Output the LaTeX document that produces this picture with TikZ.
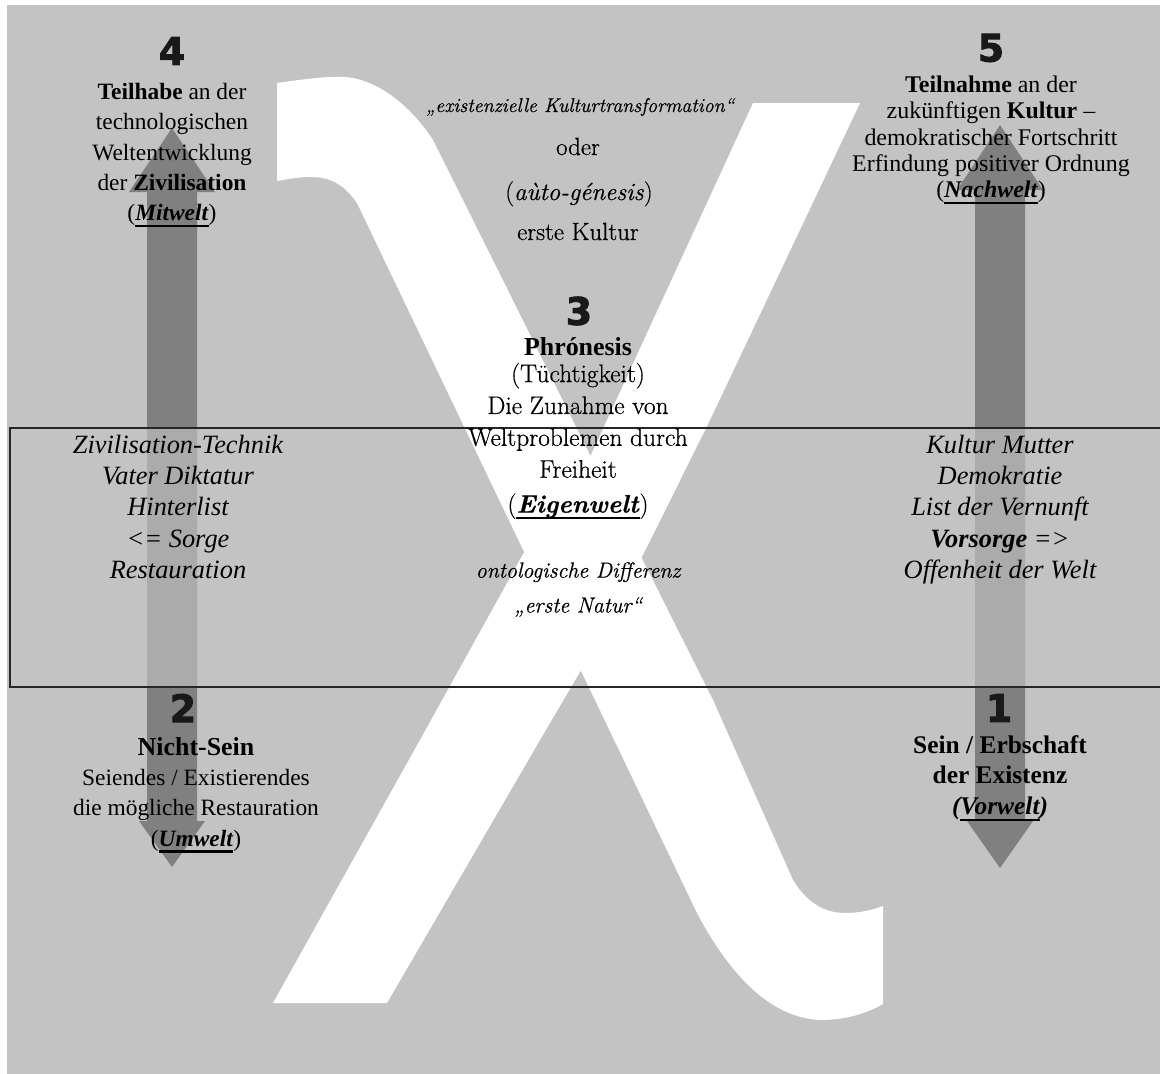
\documentclass[tikz,border=0pt]{standalone}
\usepackage{fontspec}
\setmainfont{Liberation Serif}
\newfontfamily\garfont{Latin Modern Roman}[FakeBold=0.6]
\newfontfamily\digfont{DejaVu Sans}[FakeBold=2.5]
\usepackage{xcolor}
\usepackage{tikz}

\definecolor{bggray}{RGB}{195,195,195}
\definecolor{shaftgray}{RGB}{128,128,128}
\newcommand{\setfs}[2]{\fontsize{#1}{#2}\selectfont}
\newcommand{\welt}[1]{\setbox0=\hbox{#1}\rlap{\rule[-6.3bp]{\wd0}{2.2bp}}\box0}

\begin{document}
\begin{tikzpicture}[x=1bp, y=-1bp,
    txt/.style={align=center, inner sep=0pt, anchor=north, font=\setfs{23.5}{30.5}},
    gar/.style={inner sep=0pt, anchor=base, font=\garfont\setfs{25}{30}},
    digit/.style={inner sep=0pt, text=black!90, font=\digfont\bfseries\setfs{38}{38}},
]
    \useasboundingbox (0,0) rectangle (1160,1074);

    % Background
    \fill[white] (0,0) rectangle (1160,1074);
    \fill[bggray] (7,5) rectangle (1160,1074);

    % Double arrows
    \fill[shaftgray] (172,128) -- (215,192) -- (197,192) -- (197,821) -- (205,821)
        -- (172,867) -- (139,821) -- (147,821) -- (147,192) -- (129,192) -- cycle;
    \fill[shaftgray] (1000,125) -- (1043,190) -- (1025,190) -- (1025,821) -- (1033,821)
        -- (1000,868) -- (967,821) -- (975,821) -- (975,190) -- (957,190) -- cycle;

    % Band
    \fill[bggray, fill opacity=0.65] (10,428) rectangle (1160,687);

    % Chi
    \fill[white] (277,83) .. controls (305,79) and (328,76) .. (345,77)
        .. controls (380,80) and (412,108) .. (433,140)
        -- (590,455) -- (713,700) -- (793,880)
        .. controls (805,900) and (822,913) .. (845,913)
        .. controls (860,913) and (872,910) .. (883,906)
        -- (883,1004)
        .. controls (865,1014) and (845,1020) .. (820,1020)
        .. controls (780,1018) and (738,990) .. (697,913)
        -- (357,203)
        .. controls (348,190) and (335,177) .. (312,177)
        .. controls (298,177) and (288,179) .. (277,181) -- cycle;
    \fill[white] (753,103) -- (860,103) -- (710,420) -- (647,547) -- (587,660)
        -- (540,740) -- (387,1003) -- (273,1003) -- (420,740) -- (527,547)
        -- (590,457) -- cycle;

    % Band frame
    \draw[line width=1.3bp, black!85] (1160,428) -- (10,428) -- (10,687) -- (1160,687);

    % Numbers
    \node[digit] (n4) at (172,51) {4};
    \node[digit] (n5) at (991,48) {5};
    \node[digit] (n3) at (579,311) {3};
    \node[digit] (n2) at (183,708) {2};
    \node[digit] (n1) at (999,708) {1};

    % Top corners
    \node[txt] (teilhabe) at (172,83) {\textbf{Teilhabe} an der\\technologischen\\Weltentwicklung\\der \textbf{Zivilisation}\\(\welt{\textbf{\textit{Mitwelt}}})};
    \node[txt, font=\setfs{24}{26.3}] (teilnahme) at (991,76) {\textbf{Teilnahme} an der\\zukünftigen \textbf{Kultur} –\\demokratischer Fortschritt\\Erfindung positiver Ordnung\\(\welt{\textbf{\textit{Nachwelt}}})};

    % Centre
    \node[gar, font=\garfont\itshape\setfs{20}{20}] (transf) at (580,112) {„existenzielle Kulturtransformation“};
    \node[gar] (oder) at (578,155) {oder};
    \node[gar] (genesis) at (579,200) {(\textit{aùto-génesis})};
    \node[gar] (erste) at (578,240) {erste Kultur};
    \node[txt, font=\garfont\setfs{25.5}{32}] (phron) at (578,337) {{\rmfamily\setfs{26}{27}\textbf{Phrónesis}}\\[-5bp](Tüchtigkeit)\\Die Zunahme von\\Weltproblemen durch\\Freiheit\\[3bp](\welt{\textbf{\textit{Eigenwelt}}})};
    \node[txt, font=\garfont\itshape\setfs{22}{35}] (differenz) at (578,562) {ontologische Differenz\\„erste Natur“};

    % Band texts
    \node[txt, font=\itshape\setfs{26.5}{31.3}] (technik) at (178,435) {Zivilisation-Technik\\Vater Diktatur\\Hinterlist\\<= Sorge\\Restauration};
    \node[txt, font=\itshape\setfs{26.5}{31.3}] (mutter) at (1000,435) {Kultur Mutter\\Demokratie\\List der Vernunft\\\textbf{Vorsorge} =>\\Offenheit der Welt};

    % Bottom corners
    \node[txt] (nichtsein) at (196,737) {{\setfs{26}{30}\textbf{Nicht-Sein}}\\Seiendes / Existierendes\\die mögliche Restauration\\(\welt{\textbf{\textit{Umwelt}}})};
    \node[txt, font=\bfseries\setfs{25.5}{31}] (sein) at (1000,735) {Sein / Erbschaft\\der Existenz\\\textit{(\welt{Vorwelt})}};
\end{tikzpicture}
\end{document}
